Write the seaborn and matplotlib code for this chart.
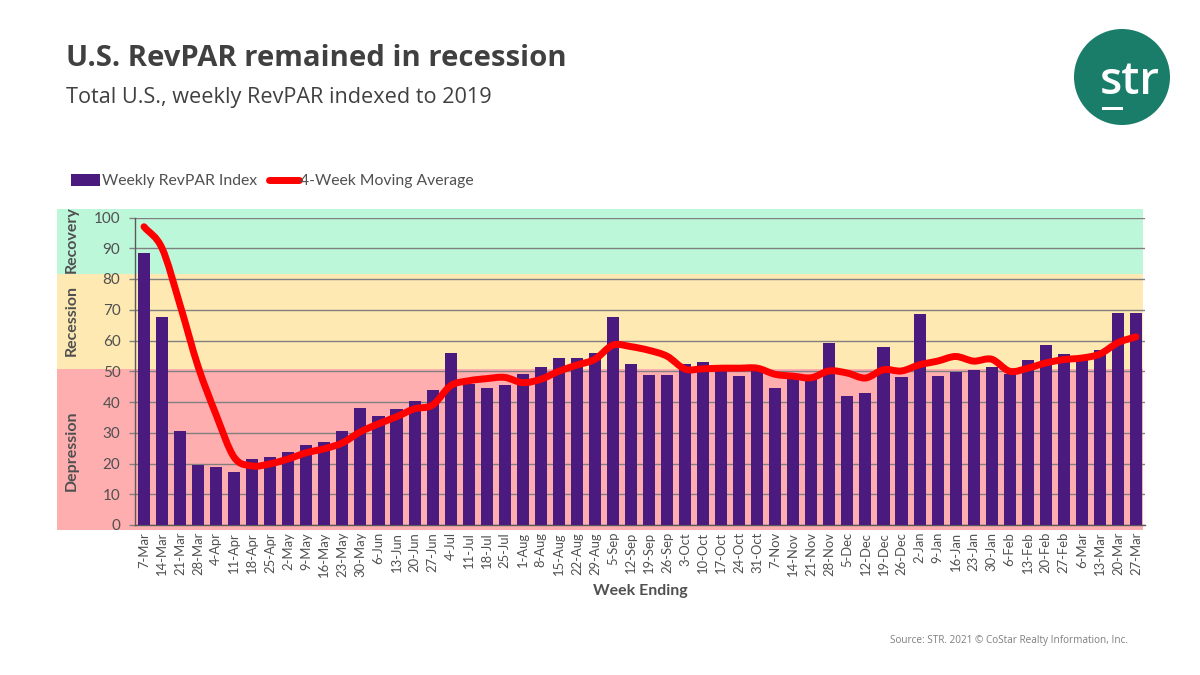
import matplotlib
matplotlib.use("Agg")
from matplotlib import pyplot as plt
from matplotlib.patches import Ellipse, PathPatch, Rectangle
from matplotlib.path import Path
import numpy as np
import pandas as pd
import seaborn as sns

weeks = ["7-Mar", "14-Mar", "21-Mar", "28-Mar", "4-Apr", "11-Apr", "18-Apr", "25-Apr",
         "2-May", "9-May", "16-May", "23-May", "30-May", "6-Jun", "13-Jun", "20-Jun", "27-Jun",
         "4-Jul", "11-Jul", "18-Jul", "25-Jul", "1-Aug", "8-Aug", "15-Aug", "22-Aug", "29-Aug",
         "5-Sep", "12-Sep", "19-Sep", "26-Sep", "3-Oct", "10-Oct", "17-Oct", "24-Oct", "31-Oct",
         "7-Nov", "14-Nov", "21-Nov", "28-Nov", "5-Dec", "12-Dec", "19-Dec", "26-Dec",
         "2-Jan", "9-Jan", "16-Jan", "23-Jan", "30-Jan", "6-Feb", "13-Feb", "20-Feb", "27-Feb",
         "6-Mar", "13-Mar", "20-Mar", "27-Mar"]

weekly_index = [88.6, 67.7, 30.6, 19.5, 18.9, 17.3, 21.5, 22.1,
                23.8, 26.0, 27.0, 30.6, 38.1, 35.5, 37.8, 40.4, 44.0,
                56.0, 46.0, 44.6, 45.6, 49.2, 51.5, 54.4, 54.4, 56.0,
                67.7, 52.4, 48.9, 48.9, 52.4, 53.1, 50.5, 48.5, 51.5,
                44.6, 47.5, 47.5, 59.3, 42.0, 43.0, 58.0, 48.2,
                68.7, 48.5, 49.8, 50.5, 51.5, 49.2, 53.7, 58.6, 55.7,
                54.0, 57.0, 69.0, 69.0]

moving_avg = [97.0, 90.0, 71.5, 51.5, 35.8, 22.0, 19.2, 19.9,
              21.5, 23.5, 24.8, 26.7, 30.3, 32.9, 35.2, 37.8, 39.0,
              45.3, 46.9, 47.6, 48.0, 46.3, 47.4, 50.0, 52.0, 53.9,
              58.5, 58.0, 56.8, 54.9, 50.7, 50.8, 51.0, 51.0, 51.0,
              49.0, 48.4, 47.9, 50.1, 49.4, 47.8, 50.5, 50.1,
              52.1, 53.3, 54.8, 53.3, 53.9, 50.0, 51.0, 52.7, 53.8,
              54.3, 55.6, 59.3, 61.2]

# zone name, bottom and top of the band in pixels, colour, label centre
zones = [("Recovery", 209, 274, "#bdf7da", 240),
         ("Recession", 274, 369, "#fee9b3", 321),
         ("Depression", 369, 530, "#ffaeb0", 451)]

W, H = 1200, 675
TEXT_GREY = "#505050"
LABEL_FONT = "Lato"
HEAD_FONT = "Open Sans"


def fx(px):
    return px / W


def fy(py):
    return 1 - py / H


def smooth_path(xy):
    """Bezier path through the points, same kind of smoothing as an Excel smoothed line"""
    tangents = np.gradient(xy, axis=0)
    verts = [xy[0]]
    codes = [Path.MOVETO]
    for i in range(len(xy) - 1):
        verts += [xy[i] + tangents[i] / 3, xy[i + 1] - tangents[i + 1] / 3, xy[i + 1]]
        codes += [Path.CURVE4, Path.CURVE4, Path.CURVE4]
    return Path(verts, codes)


sns.set_theme(style="white")
plt.rcParams["font.family"] = [LABEL_FONT, "DejaVu Sans"]

df = pd.DataFrame({"week": weeks, "weekly": weekly_index, "avg": moving_avg})

fig = plt.figure(figsize=(W / 100, H / 100), dpi=100, facecolor="white")
ax = fig.add_axes([fx(135), fy(525), (1145 - 135) / W, (525 - 217.5) / H])
ax.patch.set_alpha(0)

# coloured zones run out past the axes, under the tick labels
for name, top, bottom, colour, mid in zones:
    fig.add_artist(Rectangle((fx(57), fy(bottom)), (1143 - 57) / W, (bottom - top) / H,
                             transform=fig.transFigure, facecolor=colour, edgecolor="none", zorder=-5))
    fig.text(fx(72), fy(mid), name, rotation=90, ha="center", va="center",
             fontsize=11.5, fontweight="bold", color=TEXT_GREY)

sns.barplot(data=df, x="week", y="weekly", color="#4a1a7f", saturation=1, width=0.67,
            linewidth=0, label="Weekly RevPAR Index", legend=False, ax=ax, zorder=3)
sns.lineplot(x=np.arange(len(df)), y=df["avg"].values, color="#ff0000", linewidth=5,
             label="4-Week Moving Average", ax=ax, zorder=4, sort=False, legend=False,
             solid_capstyle="round", solid_joinstyle="round")

ax.set_xlim(-0.5, len(df) - 0.5)
ax.set_ylim(0, 100)
ax.set_yticks(range(0, 101, 10))
ax.set_xticks(np.arange(len(df)))
ax.set_xticklabels(weeks, rotation=90)
ax.yaxis.grid(True, color="#808080", linewidth=1.0)
ax.set_axisbelow(True)
ax.xaxis.grid(False)
for side in ["top", "right"]:
    ax.spines[side].set_visible(False)
for side in ["left", "bottom"]:
    ax.spines[side].set_color("#595959")
    ax.spines[side].set_linewidth(1.0)
ax.tick_params(axis="y", length=4.5, width=1, color="#808080", labelsize=11,
               labelcolor=TEXT_GREY, pad=6, left=True)
ax.tick_params(axis="x", length=0, labelsize=9.4, labelcolor=TEXT_GREY, pad=5)
ax.set_xlabel("")
ax.set_ylabel("")

handles, labels = ax.get_legend_handles_labels()
fig.legend(handles[::-1], labels[::-1], loc="center left", bbox_to_anchor=(fx(71), fy(181)), ncol=2,
           frameon=False, fontsize=11.35, handlelength=1.85, handleheight=0.8, handletextpad=0.1,
           columnspacing=0.8, labelcolor=TEXT_GREY, borderpad=0, borderaxespad=0)

# swap the straight segments for the smoothed curve, the legend keeps its own copy of the line
line = ax.lines[-1]
ax.add_patch(PathPatch(smooth_path(line.get_xydata()), facecolor="none", edgecolor="#ff0000",
                       linewidth=5, capstyle="round", joinstyle="round", zorder=4))
line.set_visible(False)

fig.text(fx(640), fy(591), "Week Ending", ha="center", va="center", fontsize=11.4,
         fontweight="bold", color=TEXT_GREY)

fig.text(fx(66), fy(59), "U.S. RevPAR remained in recession", ha="left", va="center",
         fontsize=21.1, fontweight="bold", color="#404040", family=HEAD_FONT)
fig.text(fx(66), fy(97), "Total U.S., weekly RevPAR indexed to 2019", ha="left", va="center",
         fontsize=15.6, color="#404040", family=HEAD_FONT)
fig.text(fx(1128), fy(640), "Source: STR. 2021 © CoStar Realty Information, Inc.", ha="right",
         va="center", fontsize=7.2, color="#7f7f7f", family=HEAD_FONT)

# logo
fig.add_artist(Ellipse((fx(1122), fy(77)), 96 / W, 96 / H, transform=fig.transFigure,
                       facecolor="#1a7d69", edgecolor="none"))
fig.text(fx(1130), fy(83), "str", ha="center", va="center", fontsize=33, color="white",
         fontweight="semibold", family=HEAD_FONT)
fig.add_artist(Rectangle((fx(1102), fy(110)), 21 / W, 3 / H, transform=fig.transFigure,
                         facecolor="white", edgecolor="none"))

fig.savefig("out.png", dpi=100)
